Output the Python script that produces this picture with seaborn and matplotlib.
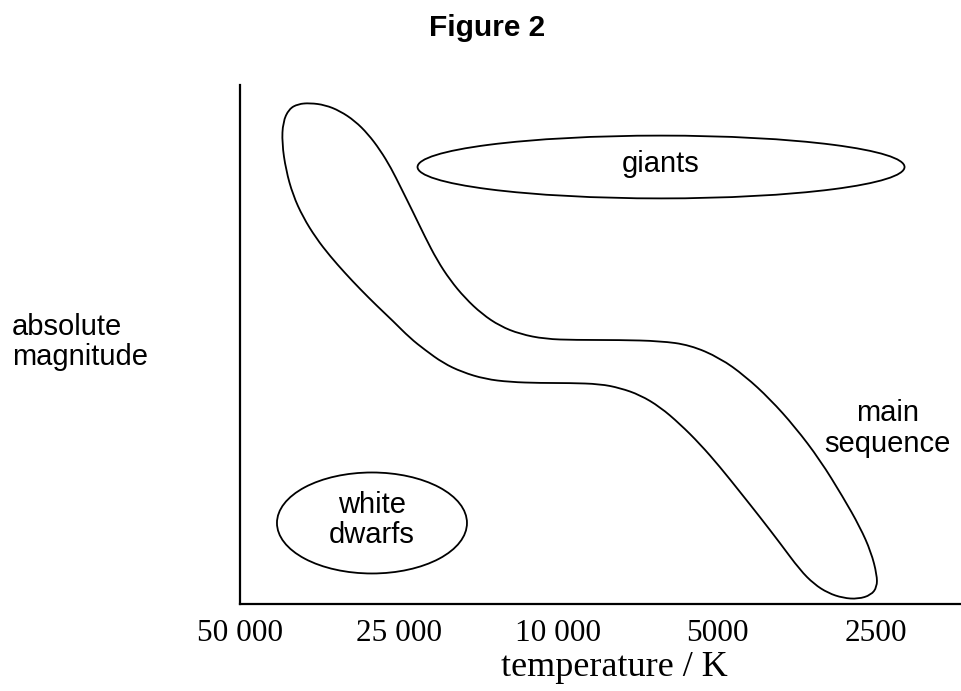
import numpy as np
import matplotlib
matplotlib.use("Agg")
import matplotlib.pyplot as plt
from matplotlib.patches import Ellipse, PathPatch
from matplotlib.path import Path
import seaborn as sns

# Temperature axis (ticks evenly spaced on a log scale)
temp_pos = [0, 1, 2, 3, 4]
temp_labels = ["50 000", "25 000", "10 000", "5000", "2500"]

# Main sequence outline (x = tick units, y = height 0-10)
ms_x = [0.440, 0.535, 0.629, 0.723, 0.805, 0.881, 0.950, 1.013, 1.088, 1.164,
        1.239, 1.321, 1.415, 1.522, 1.635, 1.761, 1.918, 2.107, 2.390, 2.642,
        2.830, 3.019, 3.176, 3.333, 3.491, 3.648, 3.792, 3.899, 3.969, 4.006,
        4.006, 3.969, 3.887, 3.792, 3.698, 3.610, 3.522,
        3.396, 3.270, 3.145, 3.019, 2.893, 2.767, 2.642, 2.516, 2.390, 2.264,
        2.075, 1.887, 1.698, 1.541, 1.396, 1.277, 1.164, 1.069, 0.962, 0.862,
        0.755, 0.660, 0.566, 0.478, 0.396, 0.333, 0.289, 0.264, 0.270, 0.308,
        0.365]
ms_y = [9.653, 9.615, 9.499, 9.306, 9.056, 8.748, 8.401, 8.015, 7.553, 7.071,
        6.628, 6.243, 5.896, 5.588, 5.356, 5.202, 5.106, 5.087, 5.087, 5.067,
        4.990, 4.740, 4.393, 3.950, 3.410, 2.775, 2.062, 1.484, 1.002, 0.559,
        0.328, 0.173, 0.096, 0.116, 0.212, 0.385, 0.655,
        1.175, 1.676, 2.158, 2.640, 3.083, 3.468, 3.796, 4.027, 4.162, 4.239,
        4.258, 4.258, 4.277, 4.335, 4.470, 4.644, 4.894, 5.125, 5.453, 5.742,
        6.069, 6.378, 6.705, 7.052, 7.457, 7.881, 8.362, 8.882, 9.287, 9.538,
        9.634]

# Ellipse shaped regions
region_names = ["giants", "white\ndwarfs"]
region_cx = [2.648, 0.830]
region_cy = [8.42, 1.561]
region_w = [3.063, 1.195]
region_h = [1.21, 1.946]

sns.set_style("white")
plt.rcParams["font.family"] = ["Liberation Sans", "DejaVu Sans"]
plt.rcParams["text.color"] = "black"

fig = plt.figure(figsize=(9.62, 6.91), dpi=100)
ax = fig.add_axes([240 / 962, 87 / 691, 722 / 962, 519 / 691])
ax.set_xlim(0, 722 / 159.0)
ax.set_ylim(0, 10)

# smooth closed outline for the main sequence band
pts = np.column_stack([ms_x, ms_y])
nxt = np.roll(pts, -1, axis=0)
mids = (pts + nxt) / 2
verts = [mids[-1]]
codes = [Path.MOVETO]
for p, m in zip(pts, mids):
    verts += [p, m]
    codes += [Path.CURVE3, Path.CURVE3]
ax.add_patch(PathPatch(Path(verts, codes), fill=False, lw=1.3, ec="black"))

for name, cx, cy, w, h in zip(region_names, region_cx, region_cy, region_w, region_h):
    ax.add_patch(Ellipse((cx, cy), w, h, fill=False, lw=1.3, ec="black"))
    ax.text(cx, cy + 0.05, name, ha="center", va="center", fontsize=21,
            linespacing=1.1, color="black")

ax.text(4.07, 3.38, "main\nsequence", ha="center", va="center", fontsize=21,
        linespacing=1.1, color="black")

# axes styling
for side in ["top", "right"]:
    ax.spines[side].set_visible(False)
for side in ["left", "bottom"]:
    ax.spines[side].set_linewidth(1.6)
    ax.spines[side].set_color("black")
ax.set_yticks([])
ax.set_xticks(temp_pos)
ax.set_xticklabels(temp_labels, family=["Liberation Serif"], fontsize=22.5)
ax.tick_params(axis="x", direction="out", length=6, width=1, colors="black", pad=5)

fig.text(614 / 962, 1 - 668 / 691, "temperature / K", ha="center", va="center",
         family=["Liberation Serif"], fontsize=26)
fig.text(12 / 962, 1 - 342 / 691, "absolute\nmagnitude", ha="left", va="center",
         fontsize=21, linespacing=1.1)
fig.text(487 / 962, 1 - 28 / 691, "Figure 2", ha="center", va="center",
         fontsize=21.5, fontweight="bold")

fig.savefig("out.png", dpi=100, facecolor="white")
